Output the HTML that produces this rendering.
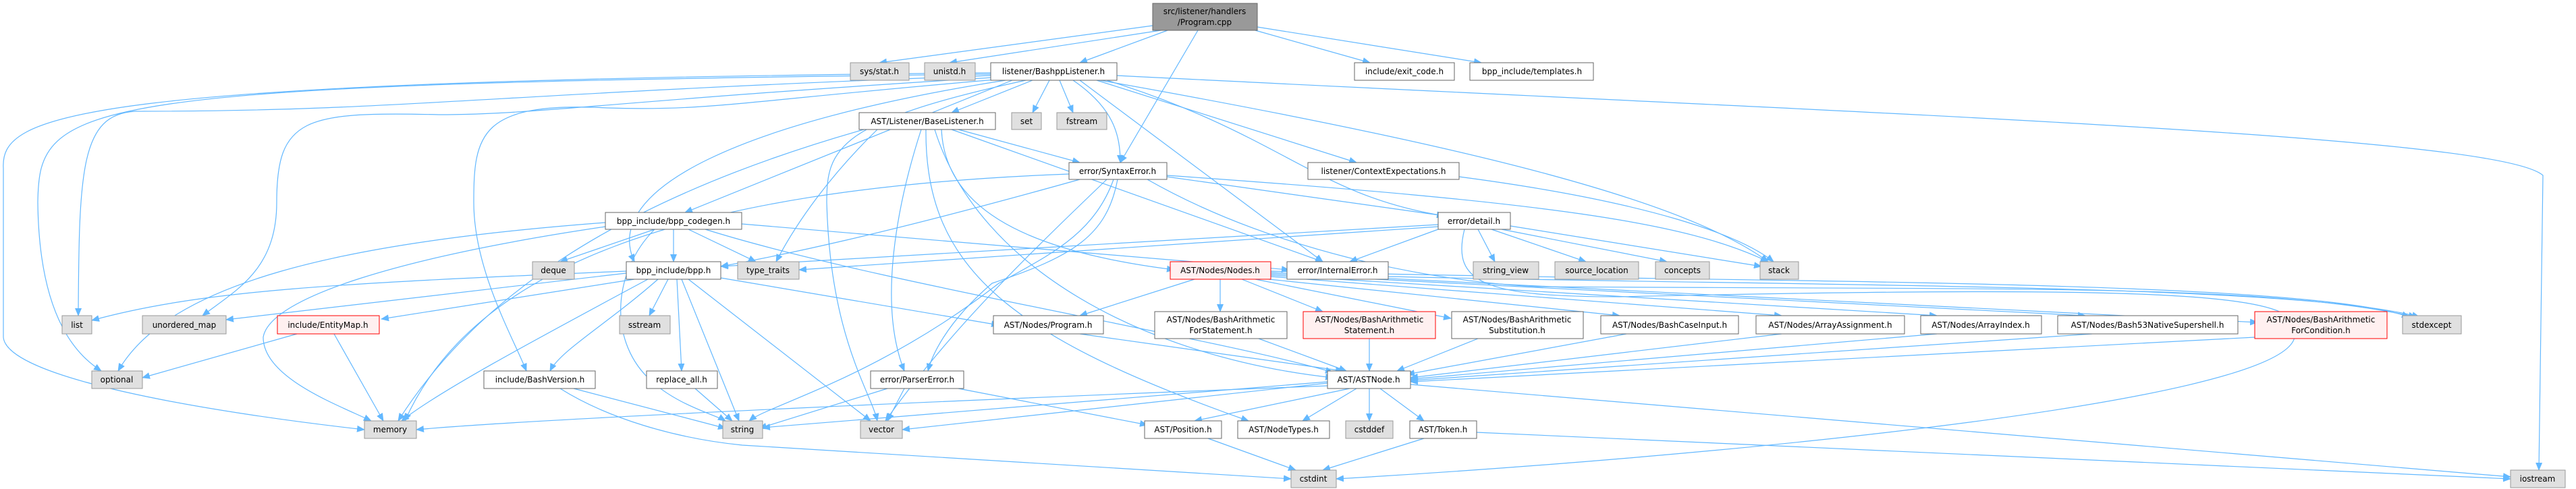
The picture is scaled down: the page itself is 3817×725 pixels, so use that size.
<!DOCTYPE html>
<html><head><meta charset="utf-8">
<style>
html,body{margin:0;padding:0;background:#fff;}
svg{display:block;}
text{font-family:"DejaVu Sans","Liberation Sans",sans-serif;font-size:12px;fill:#000;text-anchor:middle;}
.e{fill:none;stroke:#63b8ff;stroke-width:1.2;marker-end:url(#a);}
.n{fill:#fff;stroke:#666;stroke-width:1;}
.g{fill:#e0e0e0;stroke:#999;stroke-width:1;}
.r{fill:#fff0f0;stroke:#f00;stroke-width:1;}
</style></head><body>
<svg width="3817" height="725" viewBox="0 0 3817 725" xmlns="http://www.w3.org/2000/svg">
<defs><marker id="a" markerWidth="12" markerHeight="10" refX="11" refY="5" orient="auto" markerUnits="userSpaceOnUse"><path d="M0,0 L12,5 L0,10 z" fill="#63b8ff"/></marker></defs>
<g>
<path class="e" d="M1708,38 L1303,93"/>
<path class="e" d="M1720,45 L1407,93"/>
<path class="e" d="M1730,45 L1600,93"/>
<path class="e" d="M1775,45 L1660,241"/>
<path class="e" d="M1860,45 L2030,93"/>
<path class="e" d="M1863,40 L2195,93"/>
<path class="e" d="M1530,119 L1410,167"/>
<path class="e" d="M1555,119 L1530,167"/>
<path class="e" d="M1570,119 L1590,167"/>
<path class="e" d="M1590,119 C1650,160 1660,200 1660,241"/>
<path class="e" d="M1625,119 L2010,241"/>
<path class="e" d="M1640,119 C1900,200 1950,290 2140,320"/>
<path class="e" d="M1600,119 L1960,388"/>
<path class="e" d="M1630,119 C2200,220 2500,300 2620,388"/>
<path class="e" d="M1655,112 C2800,170 3700,200 3768,260 L3762,697"/>
<path class="e" d="M1468,108 C100,120 0,170 5,250 L5,500 C10,560 300,610 540,637"/>
<path class="e" d="M1468,110 C100,125 58,150 56,300 C58,480 120,530 150,550"/>
<path class="e" d="M1468,112 C700,140 600,165 200,165 C120,170 117,250 116,468"/>
<path class="e" d="M1470,115 C900,150 800,170 650,170 C450,165 410,175 410,300 C410,400 350,430 300,468"/>
<path class="e" d="M1475,118 C1100,150 1050,165 900,160 C710,150 702,200 702,300 C702,400 760,500 780,550"/>
<path class="e" d="M1500,119 L1015,315"/>
<path class="e" d="M1490,119 C1100,180 890,280 940,388"/>
<path class="e" d="M1520,119 C1240,180 1225,220 1225,300 C1230,500 1290,580 1300,624"/>
<path class="e" d="M1280,192 C900,300 700,450 590,624"/>
<path class="e" d="M1300,192 C1230,260 1180,330 1150,388"/>
<path class="e" d="M1420,192 L1600,241"/>
<path class="e" d="M1395,192 C1400,300 1500,370 1740,400"/>
<path class="e" d="M1410,192 L1960,388"/>
<path class="e" d="M1365,192 C1330,300 1300,450 1340,550"/>
<path class="e" d="M1372,192 C1370,400 1500,500 1850,624"/>
<path class="e" d="M1385,192 C1450,400 1700,530 1975,560"/>
<path class="e" d="M1584,258 C1000,280 700,400 600,624"/>
<path class="e" d="M1600,266 C1300,350 1150,380 1068,395"/>
<path class="e" d="M1650,266 C1620,350 1550,380 1480,420 C1300,560 1140,600 1110,624"/>
<path class="e" d="M1640,266 C1500,400 1400,500 1312,624"/>
<path class="e" d="M1656,266 C1640,350 1590,380 1470,420 C1400,480 1380,530 1375,550"/>
<path class="e" d="M1729,262 L2140,320"/>
<path class="e" d="M1729,260 C2300,300 2500,330 2620,388"/>
<path class="e" d="M1700,266 C1900,380 2150,420 2280,425 C3000,430 3350,420 3580,470"/>
<path class="e" d="M2162,262 C2450,300 2580,350 2628,388"/>
<path class="e" d="M2190,340 L2215,388"/>
<path class="e" d="M2210,340 L2350,388"/>
<path class="e" d="M2225,340 L2470,388"/>
<path class="e" d="M2238,335 L2610,395"/>
<path class="e" d="M2131,340 L2000,388"/>
<path class="e" d="M2131,333 L1068,395"/>
<path class="e" d="M2131,336 L1184,400"/>
<path class="e" d="M2170,340 C2150,420 2200,440 2400,440 C3300,420 3420,440 3400,500 C3380,600 2500,680 1980,710"/>
<path class="e" d="M970,340 L830,388"/>
<path class="e" d="M998,340 L998,388"/>
<path class="e" d="M1020,340 L1120,388"/>
<path class="e" d="M897,330 C500,360 250,420 175,550"/>
<path class="e" d="M897,336 C600,380 400,440 390,500 C390,560 500,600 550,624"/>
<path class="e" d="M970,340 C910,400 900,500 960,560 C1000,600 1060,615 1075,624"/>
<path class="e" d="M1045,340 C1300,420 1800,500 1975,552"/>
<path class="e" d="M1099,332 L1910,400"/>
<path class="e" d="M928,402 C500,420 300,430 136,475"/>
<path class="e" d="M928,405 L335,474"/>
<path class="e" d="M940,414 L565,473"/>
<path class="e" d="M990,414 L962,468"/>
<path class="e" d="M975,414 C900,480 830,520 815,550"/>
<path class="e" d="M1003,414 L1010,550"/>
<path class="e" d="M1010,414 L1095,624"/>
<path class="e" d="M1020,414 L1290,624"/>
<path class="e" d="M960,414 C800,500 650,580 595,624"/>
<path class="e" d="M1068,412 L1480,482"/>
<path class="e" d="M440,495 L211,560"/>
<path class="e" d="M495,495 L568,624"/>
<path class="e" d="M850,576 L1075,635"/>
<path class="e" d="M830,576 C900,620 1000,650 1100,660 L1913,710"/>
<path class="e" d="M1030,576 L1085,624"/>
<path class="e" d="M1340,576 L1315,624"/>
<path class="e" d="M1420,576 L1700,630"/>
<path class="e" d="M1315,576 L1125,635"/>
<path class="e" d="M1770,414 L1600,468"/>
<path class="e" d="M1808,414 L1808,462"/>
<path class="e" d="M1840,414 L1960,462"/>
<path class="e" d="M1860,414 L2150,472"/>
<path class="e" d="M1880,414 L2400,468"/>
<path class="e" d="M1883,410 L2640,468"/>
<path class="e" d="M1883,408 L2870,468"/>
<path class="e" d="M1883,406 L3090,468"/>
<path class="e" d="M1883,404 L3345,478"/>
<path class="e" d="M1883,402 C2500,420 3400,410 3570,470"/>
<path class="e" d="M2057,410 C2700,425 3400,420 3585,470"/>
<path class="e" d="M1600,495 L1990,550"/>
<path class="e" d="M1865,502 L1995,550"/>
<path class="e" d="M2029,502 L2029,550"/>
<path class="e" d="M2190,502 L2070,550"/>
<path class="e" d="M2410,495 L2085,555"/>
<path class="e" d="M2640,495 L2090,560"/>
<path class="e" d="M2870,495 L2090,562"/>
<path class="e" d="M3100,495 L2090,564"/>
<path class="e" d="M3341,500 L2090,566"/>
<path class="e" d="M1967,572 C1500,590 800,620 617,637"/>
<path class="e" d="M1967,566 L1130,634"/>
<path class="e" d="M1967,568 L1337,637"/>
<path class="e" d="M2000,576 L1770,624"/>
<path class="e" d="M2010,576 L1930,624"/>
<path class="e" d="M2029,576 L2029,624"/>
<path class="e" d="M2045,576 L2110,624"/>
<path class="e" d="M2090,570 L3720,707"/>
<path class="e" d="M1790,650 L1920,697"/>
<path class="e" d="M2110,650 L1960,697"/>
<path class="e" d="M2188,641 L3720,710"/>
</g>
<g>
<rect x="1708" y="5" width="155" height="40" fill="#999" stroke="#666"/>
<text x="1785" y="21">src/listener/handlers</text><text x="1785" y="37">/Program.cpp</text>
<rect class="g" x="1260" y="93" width="87" height="26"/><text x="1303" y="110">sys/stat.h</text>
<rect class="g" x="1370" y="93" width="75" height="26"/><text x="1407" y="110">unistd.h</text>
<rect class="n" x="1468" y="93" width="187" height="26"/><text x="1561" y="110">listener/BashppListener.h</text>
<rect class="n" x="2007" y="93" width="148" height="26"/><text x="2081" y="110">include/exit_code.h</text>
<rect class="n" x="2178" y="93" width="183" height="26"/><text x="2270" y="110">bpp_include/templates.h</text>
<rect class="n" x="1273" y="167" width="202" height="25"/><text x="1374" y="184">AST/Listener/BaseListener.h</text>
<rect class="g" x="1499" y="167" width="44" height="25"/><text x="1521" y="184">set</text>
<rect class="g" x="1566" y="167" width="74" height="25"/><text x="1603" y="184">fstream</text>
<rect class="n" x="1584" y="241" width="145" height="25"/><text x="1656" y="258">error/SyntaxError.h</text>
<rect class="n" x="1938" y="241" width="224" height="25"/><text x="2050" y="258">listener/ContextExpectations.h</text>
<rect class="n" x="897" y="315" width="202" height="25"/><text x="998" y="332">bpp_include/bpp_codegen.h</text>
<rect class="n" x="2131" y="315" width="107" height="25"/><text x="2184" y="332">error/detail.h</text>
<rect class="g" x="789" y="388" width="62" height="26"/><text x="820" y="405">deque</text>
<rect class="n" x="928" y="388" width="140" height="26"/><text x="998" y="405">bpp_include/bpp.h</text>
<rect class="g" x="1093" y="388" width="91" height="26"/><text x="1138" y="405">type_traits</text>
<rect class="r" x="1734" y="388" width="149" height="26"/><text x="1808" y="405">AST/Nodes/Nodes.h</text>
<rect class="n" x="1907" y="388" width="150" height="26"/><text x="1982" y="405">error/InternalError.h</text>
<rect class="g" x="2183" y="388" width="97" height="26"/><text x="2231" y="405">string_view</text>
<rect class="g" x="2304" y="388" width="124" height="26"/><text x="2366" y="405">source_location</text>
<rect class="g" x="2453" y="388" width="80" height="26"/><text x="2493" y="405">concepts</text>
<rect class="g" x="2608" y="388" width="57" height="26"/><text x="2636" y="405">stack</text>
<rect class="g" x="92" y="468" width="44" height="27"/><text x="114" y="486">list</text>
<rect class="g" x="211" y="468" width="124" height="27"/><text x="273" y="486">unordered_map</text>
<rect class="r" x="411" y="468" width="151" height="27"/><text x="486" y="486">include/EntityMap.h</text>
<rect class="g" x="918" y="468" width="75" height="27"/><text x="955" y="486">sstream</text>
<rect class="n" x="1472" y="468" width="163" height="27"/><text x="1553" y="486">AST/Nodes/Program.h</text>
<rect class="n" x="1711" y="462" width="196" height="40"/><text x="1809" y="478">AST/Nodes/BashArithmetic</text><text x="1809" y="494">ForStatement.h</text>
<rect class="r" x="1931" y="462" width="196" height="40"/><text x="2029" y="478">AST/Nodes/BashArithmetic</text><text x="2029" y="494">Statement.h</text>
<rect class="n" x="2151" y="462" width="195" height="40"/><text x="2248" y="478">AST/Nodes/BashArithmetic</text><text x="2248" y="494">Substitution.h</text>
<rect class="n" x="2372" y="468" width="204" height="27"/><text x="2474" y="486">AST/Nodes/BashCaseInput.h</text>
<rect class="n" x="2602" y="468" width="220" height="27"/><text x="2712" y="486">AST/Nodes/ArrayAssignment.h</text>
<rect class="n" x="2846" y="468" width="179" height="27"/><text x="2935" y="486">AST/Nodes/ArrayIndex.h</text>
<rect class="n" x="3049" y="468" width="267" height="27"/><text x="3182" y="486">AST/Nodes/Bash53NativeSupershell.h</text>
<rect class="r" x="3341" y="462" width="196" height="40"/><text x="3439" y="478">AST/Nodes/BashArithmetic</text><text x="3439" y="494">ForCondition.h</text>
<rect class="g" x="3560" y="468" width="87" height="27"/><text x="3603" y="486">stdexcept</text>
<rect class="g" x="136" y="550" width="75" height="26"/><text x="173" y="567">optional</text>
<rect class="n" x="717" y="550" width="165" height="26"/><text x="800" y="567">include/BashVersion.h</text>
<rect class="n" x="958" y="550" width="105" height="26"/><text x="1010" y="567">replace_all.h</text>
<rect class="n" x="1290" y="550" width="138" height="26"/><text x="1359" y="567">error/ParserError.h</text>
<rect class="n" x="1967" y="550" width="123" height="26"/><text x="2028" y="567">AST/ASTNode.h</text>
<rect class="g" x="540" y="624" width="77" height="26"/><text x="578" y="641">memory</text>
<rect class="g" x="1071" y="624" width="59" height="26"/><text x="1100" y="641">string</text>
<rect class="g" x="1275" y="624" width="62" height="26"/><text x="1306" y="641">vector</text>
<rect class="n" x="1696" y="624" width="114" height="26"/><text x="1753" y="641">AST/Position.h</text>
<rect class="n" x="1834" y="624" width="136" height="26"/><text x="1902" y="641">AST/NodeTypes.h</text>
<rect class="g" x="1994" y="624" width="70" height="26"/><text x="2029" y="641">cstddef</text>
<rect class="n" x="2089" y="624" width="99" height="26"/><text x="2138" y="641">AST/Token.h</text>
<rect class="g" x="1913" y="697" width="67" height="26"/><text x="1946" y="714">cstdint</text>
<rect class="g" x="3720" y="697" width="81" height="26"/><text x="3760" y="714">iostream</text>
</g>
</svg>
</body></html>
